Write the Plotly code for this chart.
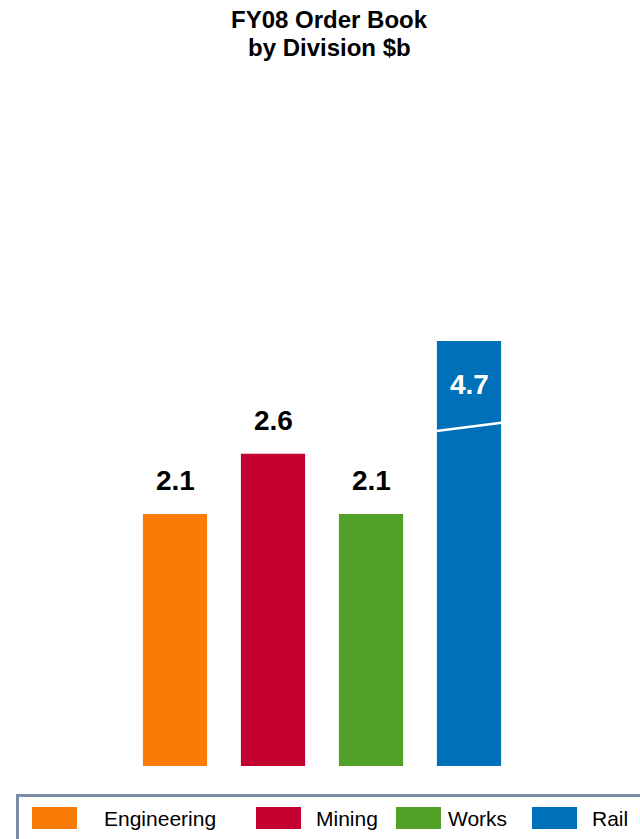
import plotly.graph_objects as go

# ---- data ----
divisions = ["Engineering", "Mining", "Works", "Rail"]
values = [2.1, 2.6, 2.1, 4.7]
colors = ["#F97B08", "#C3002F", "#52A028", "#0071B9"]
title_lines = ["FY08 Order Book", "by Division $b"]

W, H = 640, 839
FONT = "Liberation Sans, Arial, Helvetica, sans-serif"

y_max = 3.54          # axis top; Rail bar is truncated (broken bar)
break_lo, break_hi = 2.79, 2.86

def px(x):
    return x / W

def py(y):
    return 1 - y / H

fig = go.Figure()
fig.add_trace(go.Bar(
    x=divisions, y=values,
    marker=dict(color=colors, line=dict(width=0)),
    showlegend=False, hoverinfo="skip",
))

annotations = []
for cat, v in zip(divisions, values):
    if v <= y_max:
        annotations.append(dict(
            x=cat, y=v, xref="x", yref="y", text=f"<b>{v}</b>",
            showarrow=False, yanchor="middle", yshift=33,
            font=dict(family=FONT, size=28, color="#000000")))
    else:
        annotations.append(dict(
            x=cat, y=y_max, xref="x", yref="y", text=f"<b>{v}</b>",
            showarrow=False, yanchor="middle", yshift=-43,
            font=dict(family=FONT, size=28, color="#FFFFFF")))

# title (two lines)
for txt, cy in zip(title_lines, [19.5, 47.5]):
    annotations.append(dict(
        x=px(329), y=py(cy), xref="paper", yref="paper", text=f"<b>{txt}</b>",
        showarrow=False, xanchor="center", yanchor="middle", borderpad=0,
        font=dict(family=FONT, size=24, color="#000000")))

shapes = []
# break line on truncated bar(s)
for i, v in enumerate(values):
    if v > y_max:
        shapes.append(dict(type="line", xref="x", yref="y",
                           x0=i - 0.33, x1=i + 0.33, y0=break_lo, y1=break_hi,
                           line=dict(color="#FFFFFF", width=2.5)))

# manual legend box
shapes.append(dict(type="rect", xref="paper", yref="paper",
                   x0=px(17.5), x1=px(700), y0=py(795.5), y1=py(900),
                   line=dict(color="#7A8FA6", width=3), fillcolor="rgba(0,0,0,0)"))
swatch_x = [32, 256, 396, 532]
text_x = [102, 314, 446, 590]
for name, col, sx, tx in zip(divisions, colors, swatch_x, text_x):
    shapes.append(dict(type="rect", xref="paper", yref="paper",
                       x0=px(sx), x1=px(sx + 45), y0=py(829), y1=py(807),
                       line=dict(width=0), fillcolor=col))
    annotations.append(dict(
        x=px(tx), y=py(818.5), xref="paper", yref="paper", text=name,
        showarrow=False, xanchor="left", yanchor="middle",
        font=dict(family=FONT, size=21, color="#000000")))

fig.update_layout(
    width=W, height=H,
    margin=dict(l=0, r=0, t=0, b=0),
    paper_bgcolor="#FFFFFF", plot_bgcolor="#FFFFFF",
    bargap=0.345,
    xaxis=dict(domain=[px(126), px(518)], showticklabels=False, showgrid=False,
               zeroline=False, showline=False, ticks="", fixedrange=True),
    yaxis=dict(domain=[py(766), py(341)], range=[0, y_max], showticklabels=False,
               showgrid=False, zeroline=False, showline=False, ticks="", fixedrange=True),
    annotations=annotations,
    shapes=shapes,
    showlegend=False,
)

fig.write_html("out.html", config={"displayModeBar": False},
               post_script="document.body.style.margin='0';document.body.style.overflow='hidden';")
